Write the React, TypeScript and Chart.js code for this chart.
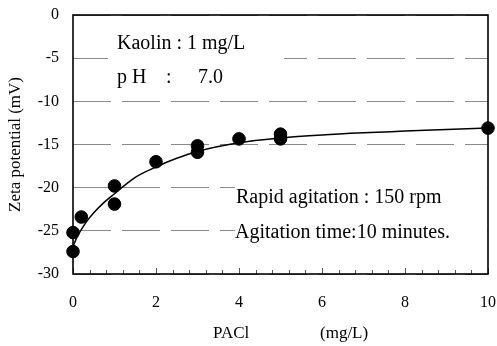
import { useEffect, useRef } from 'react';
import { Chart, registerables } from 'chart.js';

Chart.register(...registerables);

const FONT = '"Liberation Serif", "Times New Roman", serif';

// measured points
const paclDose = [0, 0, 0.2, 1, 1, 2, 3, 3, 4, 5, 5, 10];
const zetaValues = [-25.2, -27.4, -23.4, -19.8, -21.9, -17.0, -15.15, -15.9, -14.35, -13.8, -14.35, -13.1];

// fitted curve
const fitDose = [0, 0.1, 0.3, 0.5, 0.75, 1, 1.5, 2, 2.5, 3, 4, 5, 6, 7, 8, 9, 10];
const fitZeta = [-26.8, -25.7, -24.1, -22.9, -21.7, -20.7, -18.8, -17.6, -16.6, -15.8, -14.8, -14.25, -13.9, -13.65, -13.45, -13.25, -13.1];

const xLabelValues = [0, 2, 4, 6, 8, 10];
const yMin = -30;
const yMax = 0;

const annotations = {
  id: 'annotations',
  beforeDatasetsDraw(chart: any) {
    const ctx = chart.ctx;
    ctx.save();
    ctx.fillStyle = '#fff';
    ctx.fillRect(108, 28, 176, 64);
    ctx.fillRect(235, 180, 252, 64);
    ctx.fillStyle = '#000';
    ctx.font = `20px ${FONT}`;
    ctx.textBaseline = 'middle';
    ctx.textAlign = 'left';
    ctx.fillText('Kaolin : 1 mg/L', 117, 44);
    ctx.fillText('p H', 117, 78);
    ctx.fillText(':', 166, 78);
    ctx.fillText('7.0', 198, 78);
    ctx.fillText('Rapid agitation : 150 rpm', 236, 198);
    ctx.fillText('Agitation time:10 minutes.', 235, 233);

    ctx.font = `17px ${FONT}`;
    ctx.fillText('PACl', 213, 334);
    ctx.fillText('(mg/L)', 320, 334);
    ctx.translate(16, (chart.chartArea.top + chart.chartArea.bottom) / 2);
    ctx.rotate(-Math.PI / 2);
    ctx.textAlign = 'center';
    ctx.fillText('Zeta potential (mV)', 0, 0);
    ctx.restore();
  },
  afterDatasetsDraw(chart: any) {
    const ctx = chart.ctx;
    const a = chart.chartArea;
    const xs = chart.scales.x;
    ctx.save();
    ctx.strokeStyle = '#555';
    ctx.lineWidth = 1;
    for (const t of xs.ticks) {
      const px = Math.round(xs.getPixelForValue(t.value)) + 0.5;
      const major = xLabelValues.some((v) => Math.abs(v - t.value) < 1e-6);
      ctx.beginPath();
      ctx.moveTo(px, a.bottom);
      ctx.lineTo(px, a.bottom - (major ? 6 : 4));
      ctx.stroke();
    }
    ctx.strokeStyle = '#000';
    ctx.lineWidth = 1.6;
    ctx.strokeRect(a.left, a.top, a.right - a.left, a.bottom - a.top);
    ctx.restore();
  },
};

export default function App() {
  const ref = useRef<HTMLCanvasElement>(null);
  useEffect(() => {
    document.body.style.margin = '0';
    const chart = new Chart(ref.current!, {
      type: 'scatter',
      data: {
        datasets: [
          {
            type: 'line',
            data: fitDose.map((x, i) => ({ x, y: fitZeta[i] })),
            borderColor: '#000',
            borderWidth: 1.5,
            pointRadius: 0,
            cubicInterpolationMode: 'monotone',
            fill: false,
            order: 2,
          } as any,
          {
            type: 'scatter',
            data: paclDose.map((x, i) => ({ x, y: zetaValues[i] })),
            backgroundColor: '#000',
            borderColor: '#000',
            pointRadius: 6.3,
            clip: false,
            order: 1,
          } as any,
        ],
      },
      options: {
        animation: false,
        responsive: false,
        maintainAspectRatio: false,
        layout: { padding: { top: 15, right: 9, left: 0, bottom: 0 } },
        plugins: { legend: { display: false }, tooltip: { enabled: false } },
        scales: {
          x: {
            type: 'linear',
            min: 0,
            max: 10,
            ticks: {
              stepSize: 0.4,
              autoSkip: false,
              maxRotation: 0,
              padding: 19,
              color: '#000',
              font: { family: FONT, size: 16 },
              callback: (v: any) => {
                const n = Number(v);
                const hit = xLabelValues.find((lv) => Math.abs(lv - n) < 1e-6);
                return hit === undefined ? '' : String(hit);
              },
            },
            grid: { drawOnChartArea: false, drawTicks: false },
            border: { display: false },
            afterFit: (s: any) => {
              s.height = 72;
              s.paddingLeft = 0;
              s.paddingRight = 0;
            },
          },
          y: {
            min: yMin,
            max: yMax,
            ticks: {
              stepSize: 5,
              padding: 14,
              color: '#000',
              font: { family: FONT, size: 16 },
            },
            grid: { color: '#8a8a8a', lineWidth: 1, drawTicks: false },
            border: { display: false, dash: [38, 11] },
            afterFit: (s: any) => {
              s.width = 73;
              s.paddingTop = 0;
              s.paddingBottom = 0;
            },
          },
        },
      } as any,
      plugins: [annotations],
    });
    return () => chart.destroy();
  }, []);
  return <canvas ref={ref} width={497} height={346} style={{ display: 'block' }} />;
}
